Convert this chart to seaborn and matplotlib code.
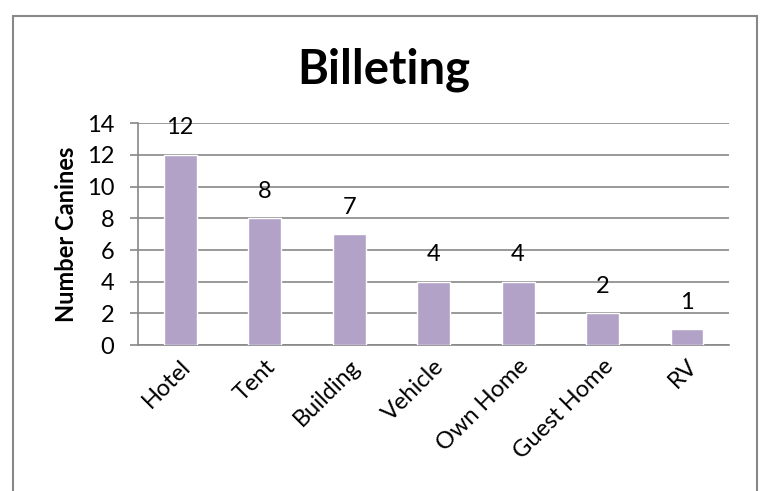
import matplotlib
matplotlib.use("Agg")
import matplotlib.pyplot as plt
import seaborn as sns
import pandas as pd
from matplotlib.patches import Rectangle

# Data
categories = ["Hotel", "Tent", "Building", "Vehicle", "Own Home", "Guest Home", "RV"]
counts = [12, 8, 7, 4, 4, 2, 1]
y_ticks = [0, 2, 4, 6, 8, 10, 12, 14]

BAR_COLOR = "#B3A2C7"
GRID_COLOR = "#888888"

sns.set_style("white")
plt.rcParams["font.family"] = ["Lato", "DejaVu Sans"]
plt.rcParams["text.color"] = "black"
plt.rcParams["axes.labelcolor"] = "black"
plt.rcParams["xtick.color"] = "black"
plt.rcParams["ytick.color"] = "black"

df = pd.DataFrame({"category": categories, "count": counts})

fig = plt.figure(figsize=(7.62, 4.91), dpi=100)
ax = fig.add_axes([0.181, 0.297, 0.776, 0.452])

sns.barplot(data=df, x="category", y="count", color=BAR_COLOR, width=0.39,
            saturation=1, ax=ax, zorder=3)

ax.set_ylim(0, 14)
ax.set_yticks(y_ticks)
ax.set_xlim(-0.5, len(categories) - 0.5)
ax.yaxis.grid(True, color=GRID_COLOR, linewidth=1.2, zorder=0)
ax.set_axisbelow(True)

for side in ["top", "right"]:
    ax.spines[side].set_visible(False)
for side in ["left", "bottom"]:
    ax.spines[side].set_color(GRID_COLOR)
    ax.spines[side].set_linewidth(1.2)

ax.tick_params(axis="y", which="major", left=True, length=6, width=1.2,
               color=GRID_COLOR, labelcolor="black", labelsize=17, pad=11)
ax.tick_params(axis="x", bottom=False, labelcolor="black", labelsize=17, pad=4)
for lbl in ax.get_xticklabels():
    lbl.set_rotation(45)
    lbl.set_ha("right")
    lbl.set_rotation_mode("anchor")

ax.set_xlabel("")
ax.set_ylabel("Number Canines", fontsize=17, fontweight="bold", labelpad=6,
              color="black")

ax.bar_label(ax.containers[0], labels=[str(v) for v in counts],
             fontsize=17, padding=12, color="black")

fig.text(0.503, 0.858, "Billeting", ha="center", va="center",
         fontsize=34, fontweight="bold", color="black")

# chart area border (bottom edge is cropped off in the reference)
fig.patches.append(Rectangle((13 / 762, -0.05), 744 / 762, 1.05 - 16 / 491,
                             transform=fig.transFigure, fill=False,
                             edgecolor="#888888", linewidth=1.5))

fig.savefig("out.png", dpi=100)
plt.close(fig)
